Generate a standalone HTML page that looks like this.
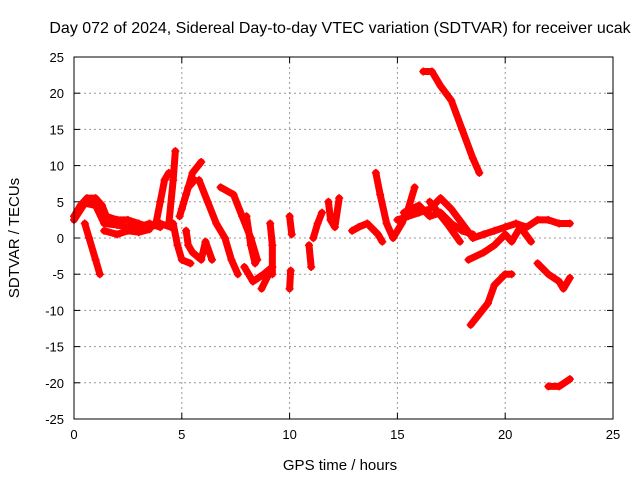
<!DOCTYPE html>
<html><head><meta charset="utf-8"><style>
body{margin:0;background:#fff}
svg text{font-family:"Liberation Sans",sans-serif;font-size:13px;fill:#000}
</style></head><body>
<svg id="chart" width="640" height="480" xmlns="http://www.w3.org/2000/svg">
<text x="340" y="33" text-anchor="middle" style="font-size:16px">Day 072 of 2024, Sidereal Day-to-day VTEC variation (SDTVAR) for receiver ucak</text>
<text x="340" y="470" text-anchor="middle" style="font-size:15px">GPS time / hours</text>
<text transform="translate(19,238) rotate(-90)" text-anchor="middle" style="font-size:15px">SDTVAR / TECUs</text>
<g id="grid"></g><g id="marks"></g>
<rect x="74" y="57" width="539" height="362" fill="none" stroke="#000" stroke-width="1"/>
</svg>
<script>
const xTicks=[0,5,10,15,20,25];
const yTicks=[25,20,15,10,5,0,-5,-10,-15,-20,-25];
const trackEarlyMain=[[0,3],[0.3,4.5],[0.6,5.5],[1,5.5],[1.3,4.5],[1.5,3],[2,2.5],[2.5,2.5],[3,2],[3.5,1.5],[4,2],[4.5,1.5]];
const trackEarlyMid=[[0,2.5],[0.5,4.8],[1,4.5],[1.4,2],[2,1.8],[2.5,1.5],[3,1.5],[3.5,2],[4,1.5]];
const trackEarlyLow=[[1.4,1],[2,0.5],[2.5,1],[3,0.8],[3.5,1.2]];
const trackDrop=[[0.5,2],[0.7,0],[1,-3],[1.2,-5]];
const trackSpike1=[[3.8,2],[4.0,5],[4.2,8],[4.4,9]];
const trackSpike2=[[4.4,2],[4.6,8],[4.7,12]];
const trackSpike3=[[4.9,3],[5.2,6],[5.5,9],[5.9,10.5]];
const trackSpike3b=[[5.0,4],[5.3,7],[5.6,8]];
const trackDip=[[4.6,2],[4.8,-1],[5.0,-3],[5.4,-3.5]];
const trackSpike4=[[5.2,1],[5.3,-1],[5.5,-2],[5.9,-3],[6.1,-0.5],[6.4,-3]];
const trackD=[[5.8,8],[6.2,5],[6.6,2],[7.0,0],[7.3,-3],[7.6,-5]];
const trackE=[[6.8,7],[7.4,6],[7.8,3],[8.2,0],[8.5,-3]];
const trackF=[[7.9,-4],[8.3,-6],[8.8,-5],[9.2,-4],[8.7,-7]];
const trackG=[[8.0,3],[8.2,-1],[8.4,-3.5]];
const trackH=[[9.1,2],[9.2,-1],[9.2,-5]];
const trackI=[[10.0,3],[10.1,0.5]];
const trackI2=[[10.05,-4.5],[10.0,-7]];
const trackJ=[[10.9,-1],[11,-4]];
const trackJ2=[[11.1,0],[11.3,2],[11.5,3.5]];
const trackK=[[11.8,5],[11.9,2.5],[12.1,1.5],[12.3,5.5]];
const trackL=[[12.9,1],[13.2,1.5],[13.6,2],[14.1,0.5],[14.3,-0.5]];
const trackL2=[[14.0,9],[14.2,6],[14.5,2],[14.8,0],[15.2,2],[15.5,4],[15.8,7]];
const trackLate=[[15.0,2.5],[15.5,3],[16,3.5],[16.5,4],[17,5.5],[17.5,4],[18,2],[18.5,0],[19,0.5],[19.5,1],[20,1.5],[20.5,2],[21,1.5],[21.5,2.5],[22,2.5],[22.5,2],[23,2]];
const trackLateB=[[15.3,3.5],[16,4.5],[16.5,3],[17,3.5],[17.5,2],[18,1],[18.5,0.5]];
const trackLate2=[[16.5,5],[17.3,2],[17.9,-0.5]];
const trackLate3=[[18.3,-3],[19,-2],[19.5,-1],[20,0.5],[20.3,-0.5],[20.7,1.5],[21.2,-0.5]];
const trackTop=[[16.2,23],[16.6,23],[17,21],[17.5,19],[18,15],[18.5,11],[18.8,9]];
const trackO=[[18.4,-12],[18.8,-10.5],[19.2,-9],[19.5,-6.5],[20,-5],[20.3,-5]];
const trackP=[[21.5,-3.5],[22,-5],[22.5,-6],[22.7,-7],[23,-5.5]];
const trackQ=[[22.0,-20.5],[22.5,-20.5],[23,-19.5]];
const tracks=[trackEarlyMain,trackEarlyMid,trackEarlyLow,trackDrop,trackSpike1,trackSpike2,trackSpike3,trackSpike3b,trackDip,trackSpike4,trackD,trackE,trackF,trackG,trackH,trackI,trackI2,trackJ,trackJ2,trackK,trackL,trackL2,trackLate,trackLateB,trackLate2,trackLate3,trackTop,trackO,trackP,trackQ];
const NS="http://www.w3.org/2000/svg";
const X0=74,X1=613,Y0=419,Y1=57;
function xs(t){return X0+(t-0)/25*(X1-X0);}
function ys(v){return Y0-(v+25)/50*(Y0-Y1);}
const grid=document.getElementById('grid'),marks=document.getElementById('marks');
function mk(tag,attrs,parent){const e=document.createElementNS(NS,tag);for(const k in attrs)e.setAttribute(k,attrs[k]);parent.appendChild(e);return e;}
xTicks.forEach(t=>{const x=xs(t);
 if(t>0&&t<25){const l=mk('line',{x1:x,x2:x,y1:Y0,y2:Y1,stroke:'#999','stroke-dasharray':'2,3'},grid);
 
 }
 mk('line',{x1:x,x2:x,y1:Y0,y2:Y0-6,stroke:'#000'},grid);
 mk('line',{x1:x,x2:x,y1:Y1,y2:Y1+6,stroke:'#000'},grid);
 const tx=mk('text',{x:x,y:Y0+20,'text-anchor':'middle'},grid);tx.textContent=t;
 
 });
yTicks.forEach(v=>{const y=ys(v);
 if(v>-25&&v<25){const l=mk('line',{x1:X0,x2:X1,y1:y,y2:y,stroke:'#999','stroke-dasharray':'2,3'},grid);
 
 }
 mk('line',{x1:X0,x2:X0+6,y1:y,y2:y,stroke:'#000'},grid);
 mk('line',{x1:X1,x2:X1-6,y1:y,y2:y,stroke:'#000'},grid);
 const tx=mk('text',{x:X0-10,y:y+5,'text-anchor':'end'},grid);tx.textContent=v;
 
 });
tracks.forEach(tr=>{
 const pl=mk('polyline',{points:tr.map(p=>xs(p[0])+','+ys(p[1])).join(' '),fill:'none',stroke:'#f00','stroke-width':7,'stroke-linejoin':'round','stroke-linecap':'round'},marks);
 
 
 tr.forEach(p=>{const x=xs(p[0]),y=ys(p[1]);
  const m=mk('path',{d:`M${x-4},${y}H${x+4}M${x},${y-4}V${y+4}`,stroke:'#f00','stroke-width':1.5},marks);
  
  });
});
</script>
</body></html>
